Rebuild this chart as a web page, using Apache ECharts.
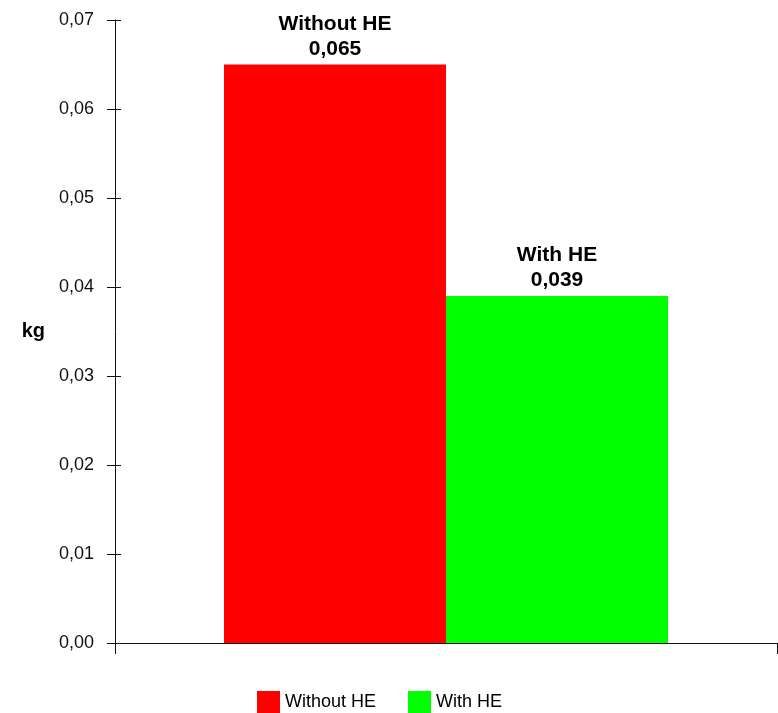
<!DOCTYPE html>
<html>
<head>
<meta charset="utf-8">
<script src="https://cdn.jsdelivr.net/npm/echarts@6/dist/echarts.min.js"></script>
<style>
  html, body { margin: 0; padding: 0; background: #fff; }
  #chart { width: 778px; height: 713px; }
</style>
</head>
<body>
<div id="chart"></div>
<script>
// Mass comparison with and without heat exchanger
const categories = ['Mass'];
const seriesNames = ['Without HE', 'With HE'];
const withoutHE = [0.065];
const withHE = [0.039];
const yTicks = { min: 0, max: 0.07, interval: 0.01 };
const unitLabel = 'kg';

const comma = (v, d) => Number(v).toFixed(d).replace('.', ',');
const font = '"Liberation Sans", Arial, sans-serif';

const chart = echarts.init(document.getElementById('chart'), null, { renderer: 'canvas' });

const barLabel = {
  show: true,
  position: 'top',
  distance: 3,
  fontFamily: font,
  fontSize: 21,
  fontWeight: 'bold',
  lineHeight: 25,
  color: '#000',
  formatter: p => p.seriesName + '\n' + comma(p.value, 3)
};

chart.setOption({
  animation: false,
  backgroundColor: '#fff',
  grid: { left: 115, right: 1, top: 20, bottom: 70, containLabel: false },
  legend: {
    data: seriesNames,
    left: 257,
    top: 691,
    padding: 0,
    itemWidth: 23,
    itemHeight: 22,
    itemGap: 32,
    icon: 'rect',
    textStyle: { fontFamily: font, fontSize: 18, color: '#000' }
  },
  xAxis: {
    type: 'category',
    data: categories,
    axisLine: { lineStyle: { color: '#111', width: 1 } },
    axisTick: { show: true, length: 11, lineStyle: { color: '#111' } },
    axisLabel: { show: false },
    splitLine: { show: false }
  },
  yAxis: [
    {
      type: 'value',
      position: 'left',
      min: yTicks.min, max: yTicks.max, interval: yTicks.interval,
      name: unitLabel,
      nameLocation: 'middle',
      nameRotate: 0,
      nameGap: 70,
      nameTextStyle: { fontFamily: font, fontSize: 20, fontWeight: 'bold', color: '#000' },
      axisLine: { show: true, lineStyle: { color: '#111', width: 1 } },
      axisTick: { show: true, length: 8, lineStyle: { color: '#111' } },
      axisLabel: {
        margin: 21,
        fontFamily: font, fontSize: 18, color: '#111',
        formatter: v => comma(v, 2)
      },
      splitLine: { show: false }
    },
    {
      // inner half of the cross-shaped ticks
      type: 'value',
      position: 'left',
      min: yTicks.min, max: yTicks.max, interval: yTicks.interval,
      axisLine: { show: false },
      axisTick: { show: true, inside: true, length: 6, lineStyle: { color: '#111' } },
      axisLabel: { show: false },
      splitLine: { show: false }
    }
  ],
  series: [
    {
      name: seriesNames[0],
      type: 'bar',
      data: withoutHE,
      barWidth: 222,
      barGap: '0%',
      itemStyle: { color: '#ff0000' },
      label: barLabel
    },
    {
      name: seriesNames[1],
      type: 'bar',
      data: withHE,
      barWidth: 222,
      barGap: '0%',
      itemStyle: { color: '#00ff00' },
      label: barLabel
    }
  ]
});
</script>
</body>
</html>
